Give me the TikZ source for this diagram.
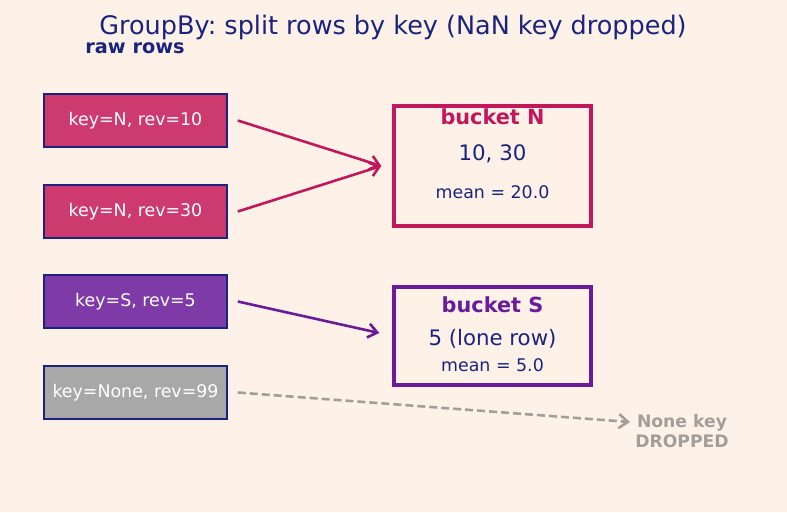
\documentclass[tikz,border=0pt]{standalone}
\usepackage{fontspec}
\setmainfont{DejaVu Sans}
\usetikzlibrary{arrows.meta}
\frenchspacing
\definecolor{bgcream}{HTML}{FEF2E8}
\definecolor{navy}{HTML}{1A237E}
\definecolor{crimson}{HTML}{C2185B}
\definecolor{rowN}{HTML}{CC3A6E}
\definecolor{plum}{HTML}{6A1B9A}
\definecolor{rowS}{HTML}{7E3AA6}
\definecolor{rowX}{HTML}{A8A8A8}
\definecolor{dropgray}{HTML}{A39E9A}
\newcommand{\fs}[2]{\fontsize{#1}{#2}\selectfont}
\begin{document}
\begin{tikzpicture}[x=1pt, y=-1pt,
    row/.style={rectangle, draw=navy, line width=1.6pt, minimum width=183pt, minimum height=53pt, inner sep=0pt, text=white, font=\fs{17.4}{20}},
    bucket/.style={rectangle, line width=3.4pt, minimum width=197pt, inner sep=0pt},
    link/.style={-{Straight Barb[length=9pt,width=14pt]}, line width=2.6pt}]
    \useasboundingbox[fill=bgcream] (0,0) rectangle (787,512);

    % --- title ---
    \node[text=navy, font=\fs{25.5}{30}] (title) at (393,27.5) {GroupBy: split rows by key (NaN key dropped)};
    \node[text=navy, font=\fs{19.3}{23}\bfseries] (rawlab) at (135,48.5) {raw rows};

    % --- raw rows ---
    \node[row, fill=rowN] (r1) at (135.5,120.5) {key=N, rev=10};
    \node[row, fill=rowN] (r2) at (135.5,211.5) {key=N, rev=30};
    \node[row, fill=rowS] (r3) at (135.5,301.5) {key=S, rev=5};
    \node[row, fill=rowX] (r4) at (135.5,392.5) {key=None, rev=99};

    % --- buckets ---
    \node[bucket, draw=crimson, minimum height=120pt] (bN) at (492.5,166) {};
    \node[text=crimson, font=\fs{20.8}{24}\bfseries] (bNlab) at (492.5,116.5) {bucket N};
    \node[text=navy, font=\fs{21.3}{25}] (bNval) at (492.5,153.5) {10, 30};
    \node[text=navy, font=\fs{17.4}{20}] (bNmean) at (492.5,192.5) {mean = 20.0};

    \node[bucket, draw=plum, minimum height=98pt] (bS) at (492.5,336) {};
    \node[text=plum, font=\fs{20.8}{24}\bfseries] (bSlab) at (492.5,304.5) {bucket S};
    \node[text=navy, font=\fs{21.3}{25}] (bSval) at (492.5,338.5) {5 (lone row)};
    \node[text=navy, font=\fs{17.4}{20}] (bSmean) at (492.5,365.5) {mean = 5.0};

    % --- dropped ---
    \node[text=dropgray, font=\fs{17.2}{20.5}\bfseries, align=center] (drop) at (682,431) {None key\\DROPPED};
    \coordinate (dropend) at (630,422);

    % --- arrows ---
    \draw[link, crimson] ([xshift=10pt]r1.east) -- ([xshift=-11pt]bN.west);
    \draw[link, crimson] ([xshift=10pt]r2.east) -- ([xshift=-11pt]bN.west);
    \draw[link, plum] ([xshift=10pt]r3.east) -- ([xshift=-13pt,yshift=3pt]bS.west);
    \draw[link, dropgray, dashed, dash pattern=on 8pt off 4pt] ([xshift=10pt]r4.east) -- (dropend);
\end{tikzpicture}
\end{document}
